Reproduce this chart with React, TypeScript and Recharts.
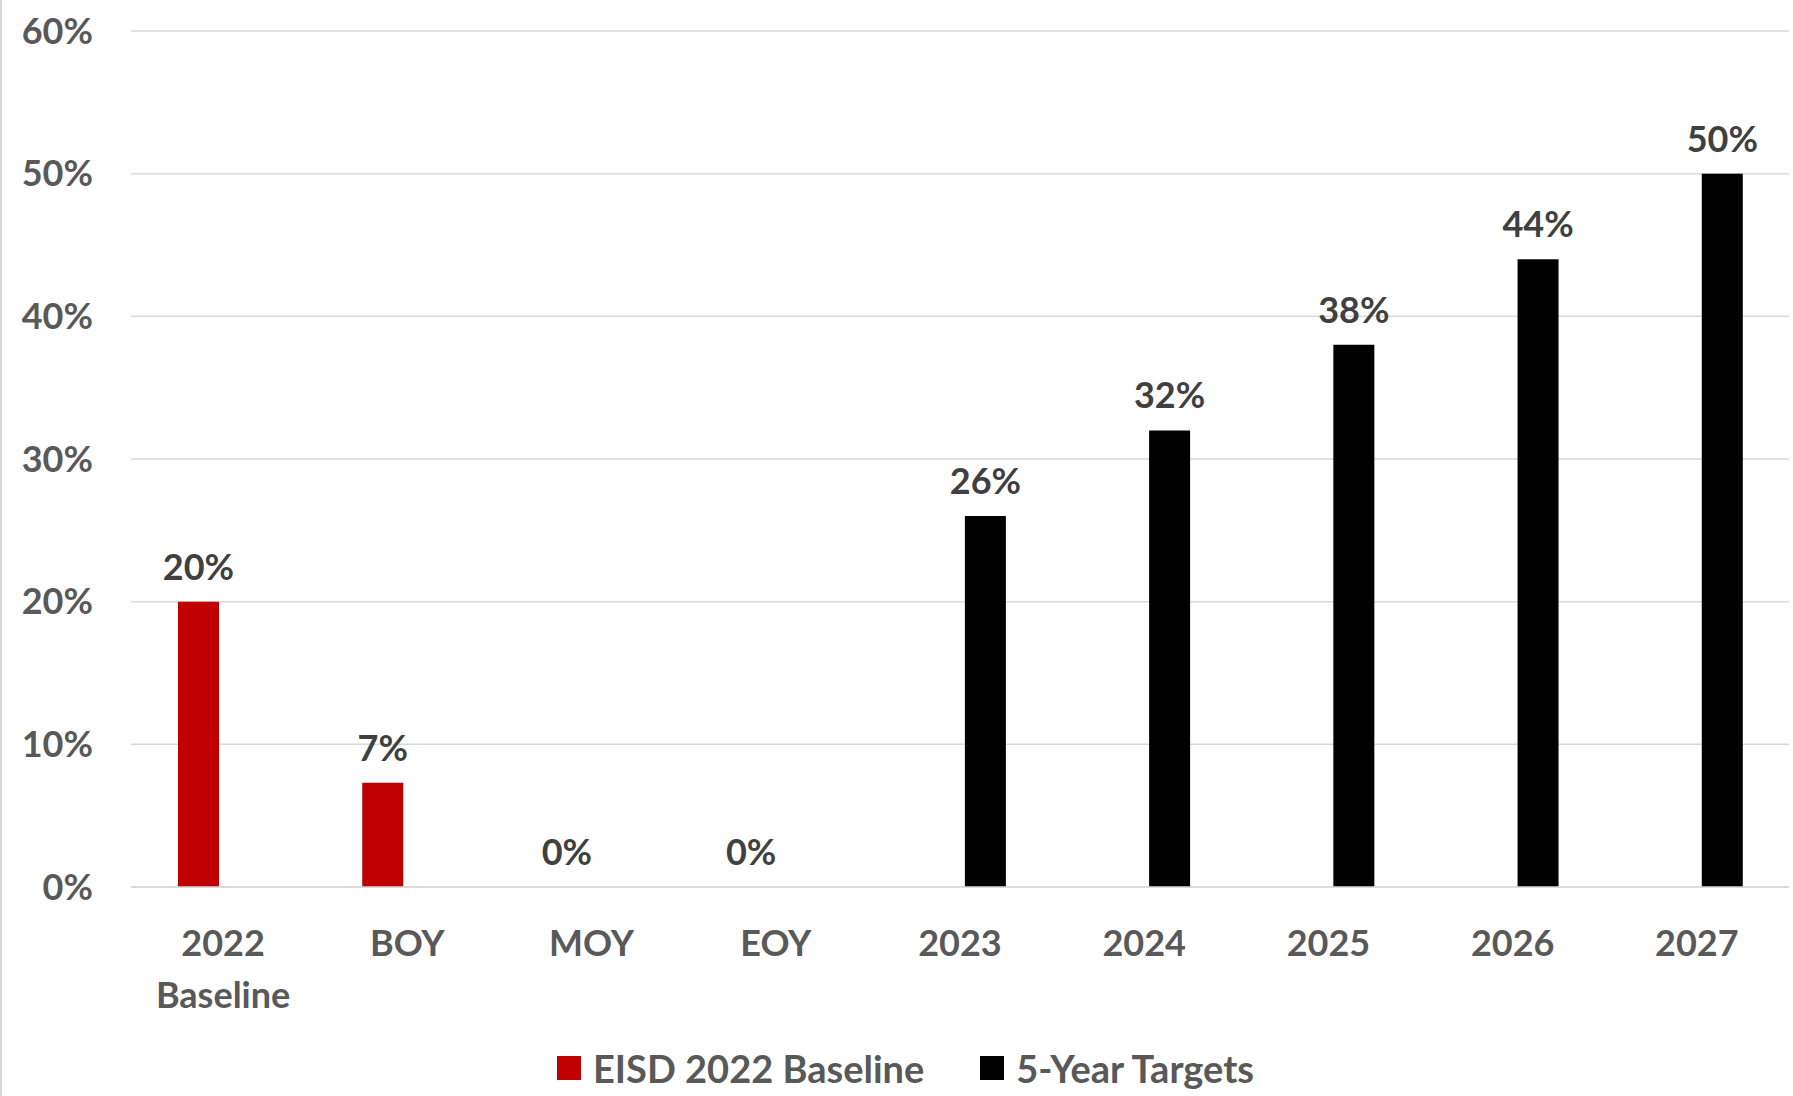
import React from "react";
import { Bar, BarChart, CartesianGrid, LabelList, Legend, XAxis, YAxis } from "recharts";

const categories = ["2022|Baseline", "BOY", "MOY", "EOY", "2023", "2024", "2025", "2026", "2027"];
const baselineValues = [20, 7.3, 0, 0, null, null, null, null, null];
const targetValues = [null, null, null, null, 26, 32, 38, 44, 50];
const yTicks = [0, 10, 20, 30, 40, 50, 60];

const seriesNames = { baseline: "EISD 2022 Baseline", target: "5-Year Targets" };
const RED = "#C00000";
const BLACK = "#000000";
const FONT = "Lato, 'Open Sans', sans-serif";

const data = categories.map((name, i) => ({
  name,
  baseline: baselineValues[i],
  target: targetValues[i]
}));

function CategoryTick({ x, y, payload }: any) {
  const lines = String(payload.value).split("|");
  return (
    <text x={x} y={y} textAnchor="middle" fill="#595959" fontSize={36} fontWeight={700} fontFamily={FONT}>
      {lines.map((line, i) => (
        <tspan key={line} x={x} dy={i === 0 ? 69 : 52}>
          {line}
        </tspan>
      ))}
    </text>
  );
}

// value label above each bar, also drawn for zero-height bars
function ValueLabel({ x, y, width, value }: any) {
  if (value === null || value === undefined) return null;
  return (
    <text
      x={Number(x) + Number(width) / 2}
      y={Number(y) - 22}
      textAnchor="middle"
      fill="#404040"
      fontSize={36}
      fontWeight={700}
      fontFamily={FONT}
    >
      {`${Math.round(Number(value))}%`}
    </text>
  );
}

function LegendContent() {
  const items = [
    { label: seriesNames.baseline, color: RED },
    { label: seriesNames.target, color: BLACK }
  ];
  return (
    <div
      style={{
        display: "flex",
        justifyContent: "center",
        alignItems: "center",
        gap: 56,
        paddingLeft: 20,
        paddingTop: 18,
        fontFamily: FONT,
        fontWeight: 700,
        fontSize: 38,
        color: "#595959"
      }}
    >
      {items.map((it) => (
        <div key={it.label} style={{ display: "flex", alignItems: "center", gap: 12 }}>
          <span style={{ width: 24, height: 24, background: it.color, display: "inline-block" }} />
          <span>{it.label}</span>
        </div>
      ))}
    </div>
  );
}

// zero values get a hair-thin bar so recharts keeps their label
const tinyForZero = (value: any) => (value === 0 ? 0.01 : 0);

export default function App() {
  return (
    <div
      style={{
        position: "absolute",
        left: 0,
        top: 0,
        width: 1793,
        height: 1096,
        background: "#ffffff",
        borderLeft: "2px solid #d9d9d9",
        boxSizing: "border-box"
      }}
    >
      <BarChart
        width={1791}
        height={1096}
        data={data}
        margin={{ top: 31, right: 4, bottom: 0, left: 0 }}
        barSize={41}
        barGap={9}
      >
        <CartesianGrid vertical={false} stroke="#d9d9d9" strokeWidth={1.5} />
        <XAxis
          dataKey="name"
          axisLine={{ stroke: "#d9d9d9", strokeWidth: 1.5 }}
          tickLine={false}
          tickSize={0}
          tickMargin={0}
          height={140}
          interval={0}
          tick={<CategoryTick />}
        />
        <YAxis
          domain={[0, 60]}
          ticks={yTicks}
          width={129}
          axisLine={false}
          tickLine={false}
          tickSize={0}
          tickMargin={38}
          tickFormatter={(v) => `${v}%`}
          tick={{ fill: "#595959", fontSize: 36, fontWeight: 700, fontFamily: FONT }}
        />
        <Legend verticalAlign="bottom" height={69} content={<LegendContent />} />
        <Bar dataKey="baseline" name={seriesNames.baseline} fill={RED} minPointSize={tinyForZero} isAnimationActive={false}>
          <LabelList dataKey="baseline" content={<ValueLabel />} />
        </Bar>
        <Bar dataKey="target" name={seriesNames.target} fill={BLACK} isAnimationActive={false}>
          <LabelList dataKey="target" content={<ValueLabel />} />
        </Bar>
      </BarChart>
    </div>
  );
}
